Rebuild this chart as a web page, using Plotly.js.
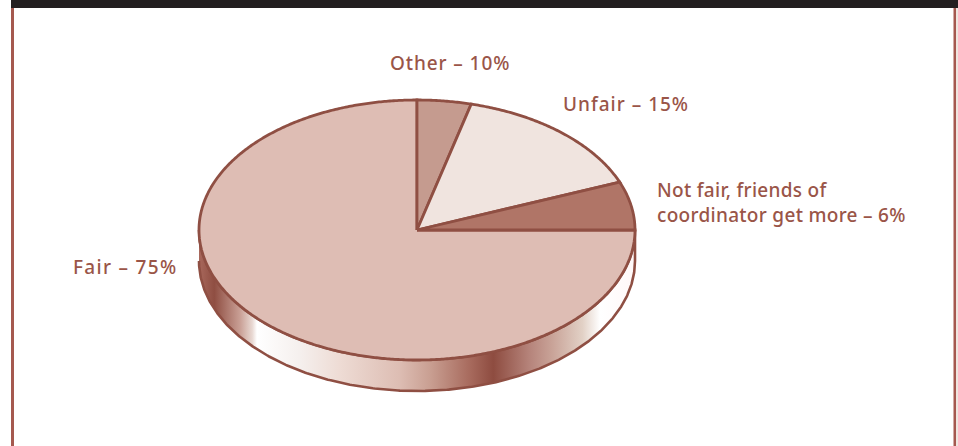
<!DOCTYPE html>
<html><head><meta charset="utf-8">
<script src="https://cdn.plot.ly/plotly-3.0.1.min.js"></script>
<style>html,body{margin:0;padding:0;background:#fff;overflow:hidden}#c{width:958px;height:446px}
g.annotation[data-index="0"] text{letter-spacing:.9px}
g.annotation[data-index="1"] text{letter-spacing:1px}
g.annotation[data-index="2"] text{letter-spacing:.3px}
g.annotation[data-index="3"] text{letter-spacing:1.3px}
</style>
</head><body><div id="c"></div>
<script>
// Data: the slice sizes as drawn, the labels as printed.
const categories = ["Other", "Unfair", "Not fair, friends of<br>coordinator get more", "Fair"];
const drawnShares = [4, 15, 6, 75];
const printedPercents = ["10%", "15%", "6%", "75%"];
const sliceColors = ["#c59b8f", "#f0e4df", "#b07567", "#debdb4"];
const labelX = [388, 561, 655, 71];
const labelY = [63, 104, 175, 267];

const W = 958, H = 446, CX = 417, CY = 230, RX = 218, RY = 130, DEPTH = 31 / 130;
const EDGE = "#8f4f43", TEXT = "#9a5548";
const xRange = [-CX / RX, (W - CX) / RX];
const yRange = [(CY - H) / RY, CY / RY];

function arc(a0, a1) {
  const n = Math.max(2, Math.ceil(Math.abs(a1 - a0) * 120));
  const xs = [], ys = [];
  for (let i = 0; i <= n; i++) {
    const a = a0 + (a1 - a0) * i / n;
    xs.push(Math.sin(a)); ys.push(Math.cos(a));
  }
  return [xs, ys];
}

const traces = [];
// rim: lower half of the disc, pushed down by DEPTH
const [wx, wy] = arc(Math.PI * 1.5, Math.PI * 0.5);
traces.push({
  type: "scatter", mode: "lines", hoverinfo: "skip", showlegend: false,
  x: wx.concat(wx.slice().reverse()),
  y: wy.concat(wy.slice().reverse().map(v => v - DEPTH)),
  fill: "toself", line: {color: EDGE, width: 2.6},
  fillgradient: {type: "horizontal", colorscale: [
    [0, "#a8685c"], [0.035, "#8f4e42"], [0.094, "#c99f95"], [0.122, "#e8d8d2"], [0.133, "#ffffff"],
    [0.23, "#f5f0ee"], [0.32, "#eedcd5"], [0.46, "#ddbdb3"], [0.53, "#c99f92"],
    [0.62, "#a86b5e"], [0.675, "#8e4c40"], [0.757, "#b5837a"], [0.81, "#c9a398"], [0.88, "#e2d1c6"],
    [0.92, "#ffffff"], [1, "#fff8f8"]
  ]}
});

// top of the disc, clockwise from twelve o'clock
const total = drawnShares.reduce((s, v) => s + v, 0);
let cum = 0;
const slices = categories.map((c, i) => {
  const a0 = cum / total * 2 * Math.PI;
  cum += drawnShares[i];
  const a1 = cum / total * 2 * Math.PI;
  const [xs, ys] = arc(a0, a1);
  return {
    type: "scatter", mode: "lines", name: c, hoverinfo: "name", showlegend: false,
    x: [0].concat(xs, [0]), y: [0].concat(ys, [0]),
    fill: "toself", fillcolor: sliceColors[i],
    line: {color: EDGE, width: 2.8, simplify: false}
  };
});
traces.push(slices[3], slices[0], slices[1], slices[2]);

const annotations = categories.map((c, i) => ({
  xref: "paper", yref: "paper", x: labelX[i] / W, y: 1 - labelY[i] / H,
  xanchor: "left", yanchor: i === 2 ? "top" : "middle", align: "left", showarrow: false,
  text: c + " \u2013 " + printedPercents[i],
  font: {family: "'Noto Sans', sans-serif", size: 19, color: TEXT, weight: 500}
}));

const rect = (x0, x1, y0, y1, color) => ({
  type: "rect", xref: "paper", yref: "paper", layer: "above", line: {width: 0}, fillcolor: color,
  x0: x0 / W, x1: x1 / W, y0: 1 - y1 / H, y1: 1 - y0 / H
});

Plotly.newPlot("c", traces, {
  width: W, height: H, margin: {l: 0, r: 0, t: 0, b: 0, pad: 0},
  paper_bgcolor: "#fff", plot_bgcolor: "#fff", showlegend: false,
  xaxis: {range: xRange, visible: false, fixedrange: true},
  yaxis: {range: yRange, visible: false, fixedrange: true},
  annotations,
  shapes: [
    rect(11, 958, 0, 8, "#231f20"),
    rect(11, 14, 8, 446, "#a5594f"),
    rect(953.5, 956, 8, 446, "#a5594f"),
    rect(956, 958, 8, 446, "#efe6e0")
  ]
}, {displayModeBar: false, staticPlot: true});
</script></body></html>
